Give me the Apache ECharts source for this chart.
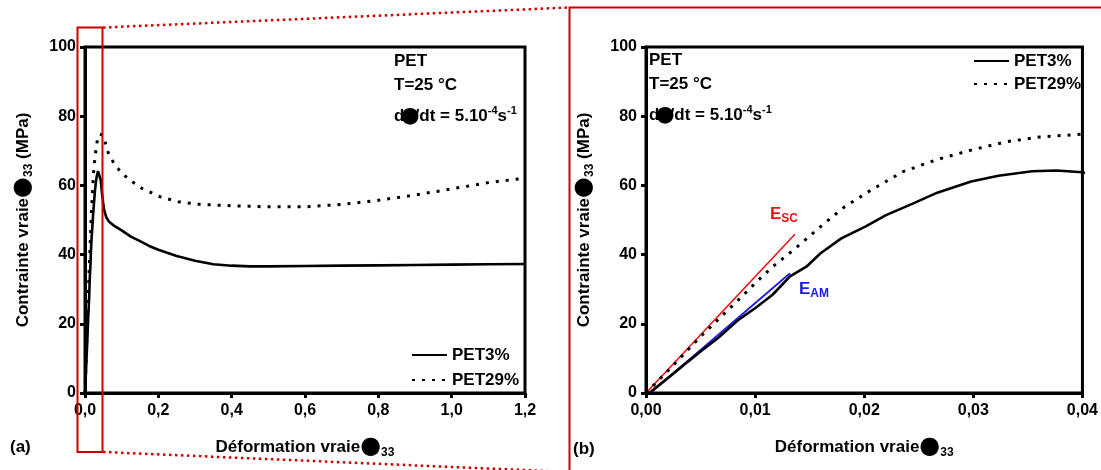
<!DOCTYPE html>
<html><head><meta charset="utf-8">
<script src="https://cdn.jsdelivr.net/npm/echarts@6/dist/echarts.min.js"></script>
<style>html,body{margin:0;padding:0;background:#fff}#c{width:1101px;height:470px}</style>
</head><body><div id="c"></div>
<script>
// ---- data ----
const pet3Strain = [0.0003,0.002,0.0035,0.005,0.0066,0.0085,0.01,0.0116,0.0132,0.0147,0.016,0.0179,0.0201,0.022,0.0245,0.0267,0.0298,0.0323,0.0354,0.0376,0.040,0.043,0.047,0.052,0.058,0.065,0.08,0.1,0.125,0.15,0.175,0.2,0.25,0.3,0.35,0.4,0.45,0.5,0.6,0.7,0.8,0.9,1.0,1.1,1.2];
const pet3Stress = [0,4.3,8.2,12,15.9,21.2,24.5,28.4,33.7,36.5,40.4,44.7,48.1,51.4,54.8,57.9,61.1,62.8,64.1,64.3,63.8,61.5,57,53,50.8,49.6,48.3,47,45.2,43.9,42.5,41.4,39.6,38.2,37.2,36.8,36.6,36.6,36.7,36.8,36.9,37,37.1,37.2,37.3];
const pet29Strain = [0,0.0025,0.005,0.0066,0.0085,0.01,0.0116,0.0135,0.016,0.0182,0.0204,0.0235,0.0267,0.0298,0.033,0.0361,0.04,0.045,0.05,0.055,0.06,0.07,0.08,0.1,0.13,0.156,0.205,0.254,0.303,0.4,0.5,0.6,0.7,0.8,0.9,1.0,1.1,1.2];
const pet29Stress = [0,8,16.3,21.2,27,31.7,36.5,41.3,48.1,53.8,58.2,63.9,67.5,70.2,72.6,74.0,74.8,75.3,74.5,72.5,70.2,68,66.2,63.5,61,59.1,56.7,55.3,54.6,54.1,53.8,53.8,54.5,55.7,57.2,59,60.8,62.1];
const escStrain = [0, 0.01365];
const escStress = [0, 45.9];
const eamStrain = [0.0004, 0.0132];
const eamStress = [0, 34.6];
const seriesNames = ['PET3%', 'PET29%'];
const xTicksA = ['0,0','0,2','0,4','0,6','0,8','1,0','1,2'];
const xTicksB = ['0,00','0,01','0,02','0,03','0,04'];
const yTicks = ['0','20','40','60','80','100'];

const zip = (a, b) => a.map((v, i) => [v, b[i]]);
const F = 'Liberation Sans, Arial, sans-serif';
const BLOB = 'DejaVu Sans';

const chart = echarts.init(document.getElementById('c'), null, {renderer: 'canvas'});

function xAxis(gi, max, interval, ticks) {
  return {
    type: 'value', gridIndex: gi, min: 0, max: max, interval: interval,
    axisLine: {show: true, onZero: false, lineStyle: {color: '#000', width: 3}},
    axisTick: {show: true, length: 5, lineStyle: {color: '#000', width: 3}},
    splitLine: {show: false},
    axisLabel: {margin: 10, color: '#000', fontFamily: F, fontWeight: 'bold', fontSize: 16,
      formatter: (v, i) => ticks[i]},
    name: '{t|Déformation vraie}{b|●}{s|33}',
    nameLocation: 'middle', nameGap: 42,
    nameTextStyle: {rich: {
      t: {fontFamily: F, fontWeight: 'bold', fontSize: 17, color: '#000', lineHeight: 24},
      b: {fontFamily: BLOB, fontSize: 24, color: '#000', lineHeight: 24},
      s: {fontFamily: F, fontWeight: 'bold', fontSize: 12, color: '#000', lineHeight: 12, verticalAlign: 'bottom', padding: [10, 0, 0, 0]}
    }}
  };
}
function yAxis(gi) {
  return {
    type: 'value', gridIndex: gi, min: 0, max: 100, interval: 20,
    axisLine: {show: true, onZero: false, lineStyle: {color: '#000', width: 3}},
    axisTick: {show: true, length: 5, lineStyle: {color: '#000', width: 3}},
    splitLine: {show: false},
    axisLabel: {margin: 9, color: '#000', fontFamily: F, fontWeight: 'bold', fontSize: 16,
      formatter: (v, i) => yTicks[i]},
    name: '{t|Contrainte vraie}{b|●}{s|33}{t| (MPa)}',
    nameLocation: 'middle', nameGap: 50, nameRotate: 90,
    nameTextStyle: {rich: {
      t: {fontFamily: F, fontWeight: 'bold', fontSize: 17, color: '#000', lineHeight: 24},
      b: {fontFamily: BLOB, fontSize: 24, color: '#000', lineHeight: 24},
      s: {fontFamily: F, fontWeight: 'bold', fontSize: 12, color: '#000', lineHeight: 12, verticalAlign: 'bottom', padding: [10, 0, 0, 0]}
    }}
  };
}

const solid = {color: '#000', width: 2.6, type: 'solid'};
const dotted = {color: '#000', width: 3, type: [3, 7]};

function curves(gi) {
  return [
    {name: seriesNames[0], type: 'line', xAxisIndex: gi, yAxisIndex: gi, data: zip(pet3Strain, pet3Stress),
      symbol: 'none', showSymbol: false, lineStyle: solid, itemStyle: {color: '#000'}, clip: true, silent: true, z: 3},
    {name: seriesNames[1], type: 'line', xAxisIndex: gi, yAxisIndex: gi, data: zip(pet29Strain, pet29Stress),
      symbol: 'none', showSymbol: false, lineStyle: dotted, itemStyle: {color: '#000'}, clip: true, silent: true, z: 3}
  ];
}

const supRich = {
  m: {fontFamily: F, fontWeight: 'bold', fontSize: 17, fill: '#000', lineHeight: 22},
  b: {fontFamily: BLOB, fontSize: 22, fill: '#000', lineHeight: 22, padding: [0, 0, 0, -4]},
  sl: {fontFamily: F, fontWeight: 'bold', fontSize: 17, fill: '#000', lineHeight: 22, padding: [0, 0, 0, -5]},
  sup: {fontFamily: F, fontWeight: 'bold', fontSize: 11, fill: '#000', lineHeight: 22, verticalAlign: 'top', padding: [0, 0, 8, 0]}
};
function infoText(x, y0) {
  return [
    {type: 'text', x: x, y: y0, z: 50, style: {text: 'PET', fontFamily: F, fontWeight: 'bold', fontSize: 17, fill: '#000', verticalAlign: 'middle'}},
    {type: 'text', x: x, y: y0 + 24, z: 50, style: {text: 'T=25 °C', fontFamily: F, fontWeight: 'bold', fontSize: 17, fill: '#000', verticalAlign: 'middle'}},
    {type: 'text', x: x, y: y0 + 55, z: 50, style: {text: '{m|d}{b|●}{sl|/dt = 5.10}{sup|-4}{m|s}{sup|-1}', rich: supRich, verticalAlign: 'middle'}}
  ];
}

const legendCommon = {
  data: seriesNames, orient: 'vertical', padding: 0, itemWidth: 35, itemHeight: 14,
  itemStyle: {color: 'transparent', borderColor: 'transparent', borderWidth: 0, opacity: 0},
  textStyle: {fontFamily: F, fontWeight: 'bold', fontSize: 17, color: '#000', lineHeight: 20},
  selectedMode: false
};

const RED = '#cc0000';
const option = {
  animation: false,
  backgroundColor: '#fff',
  grid: [
    {left: 85, right: 576, top: 47, bottom: 77, show: true, borderColor: '#000', borderWidth: 3, backgroundColor: 'transparent'},
    {left: 646, right: 15, top: 47, bottom: 77, show: true, borderColor: '#000', borderWidth: 3, backgroundColor: 'transparent'}
  ],
  xAxis: [xAxis(0, 1.2, 0.2, xTicksA), xAxis(1, 0.04, 0.01, xTicksB)],
  yAxis: [yAxis(0), yAxis(1)],
  legend: [
    Object.assign({}, legendCommon, {left: 411, top: 345, itemGap: 5}),
    Object.assign({}, legendCommon, {left: 973, top: 51, itemGap: 3})
  ],
  series: [
    ...curves(0), ...curves(1),
    {name: 'ESC', type: 'line', xAxisIndex: 1, yAxisIndex: 1, data: zip(escStrain, escStress), symbol: 'none',
      lineStyle: {color: '#ee1111', width: 1.6}, silent: true, z: 2},
    {name: 'EAM', type: 'line', xAxisIndex: 1, yAxisIndex: 1, data: zip(eamStrain, eamStress), symbol: 'none',
      lineStyle: {color: '#1a1aee', width: 1.8}, silent: true, z: 2}
  ],
  graphic: [
    ...infoText(394, 61), ...infoText(649, 60),
    {type: 'text', x: 770, y: 214, z: 50, style: {text: '{e|E}{s|SC}', verticalAlign: 'middle', rich: {
      e: {fontFamily: F, fontWeight: 'bold', fontSize: 17, fill: '#ee1111', lineHeight: 22},
      s: {fontFamily: F, fontWeight: 'bold', fontSize: 12, fill: '#ee1111', lineHeight: 22, verticalAlign: 'bottom', padding: [8, 0, 0, 0]}}}},
    {type: 'text', x: 799, y: 289, z: 50, style: {text: '{e|E}{s|AM}', verticalAlign: 'middle', rich: {
      e: {fontFamily: F, fontWeight: 'bold', fontSize: 17, fill: '#1a1aee', lineHeight: 22},
      s: {fontFamily: F, fontWeight: 'bold', fontSize: 12, fill: '#1a1aee', lineHeight: 22, verticalAlign: 'bottom', padding: [8, 0, 0, 0]}}}},
    {type: 'text', x: 10, y: 447, z: 50, style: {text: '(a)', fontFamily: F, fontWeight: 'bold', fontSize: 17, fill: '#000', verticalAlign: 'middle'}},
    {type: 'text', x: 573, y: 449, z: 50, style: {text: '(b)', fontFamily: F, fontWeight: 'bold', fontSize: 17, fill: '#000', verticalAlign: 'middle'}},
    // zoom decoration
    {type: 'rect', z: 100, shape: {x: 77.5, y: 27.5, width: 25, height: 424.5}, style: {fill: 'none', stroke: RED, lineWidth: 2}},
    {type: 'polyline', z: 100, shape: {points: [[569.5, 472], [569.5, 7.5], [1103, 7.5]]}, style: {fill: 'none', stroke: RED, lineWidth: 2}},
    {type: 'line', z: 100, shape: {x1: 103, y1: 27.5, x2: 569, y2: 7.5}, style: {stroke: RED, lineWidth: 2.5, lineDash: [2.5, 3.5]}},
    {type: 'line', z: 100, shape: {x1: 103, y1: 452, x2: 569, y2: 472}, style: {stroke: RED, lineWidth: 2.5, lineDash: [2.5, 3.5]}}
  ]
};
chart.setOption(option);
</script></body></html>
